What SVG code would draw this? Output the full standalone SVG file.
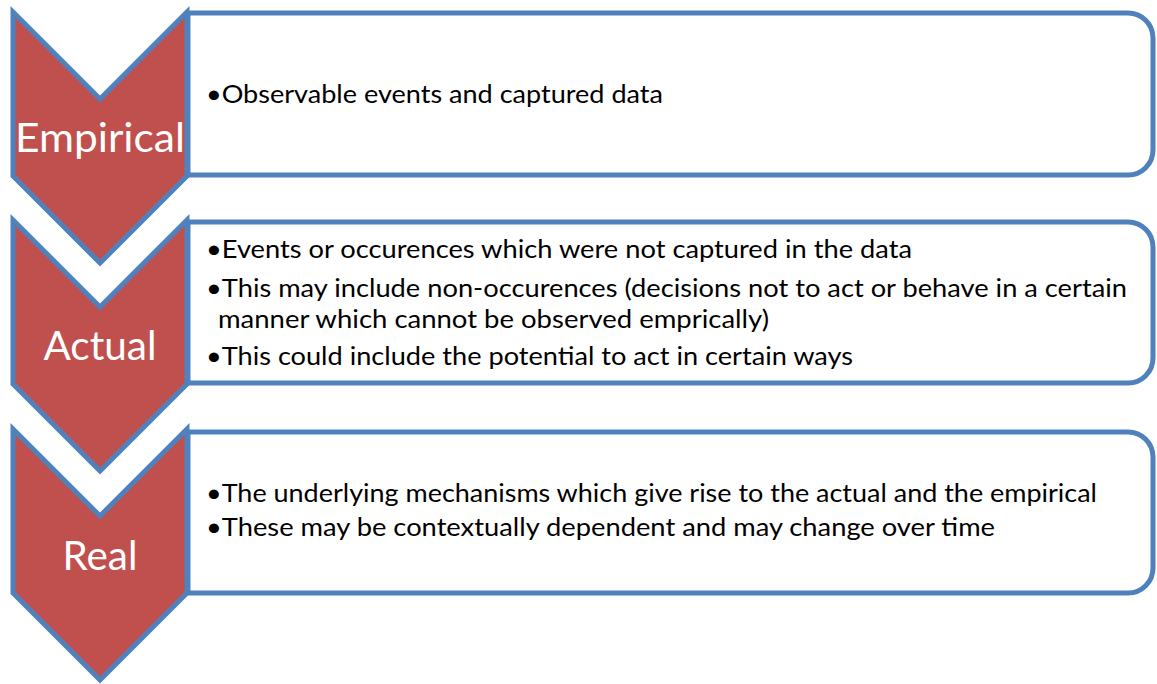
<svg xmlns="http://www.w3.org/2000/svg" width="1157" height="684" viewBox="0 0 1157 684">
<style>
.chev{fill:#C0504D;stroke:#4F81BD;stroke-width:5;stroke-linejoin:miter}
.box{fill:#FFFFFF;stroke:#4F81BD;stroke-width:5}
.lbl{font-family:Lato,"Open Sans",sans-serif;font-size:40px;fill:#FFFFFF;text-anchor:middle}
.txt{font-family:Lato,"Open Sans",sans-serif;font-size:25px;fill:#000000}
</style>
<rect width="1157" height="684" fill="#FFFFFF"/>
<g id="box1"><path class="box" d="M188,13 H1128 A25,25 0 0 1 1153,38 V150 A25,25 0 0 1 1128,175 H188 Z"/>
<text class="txt" x="206" y="103" textLength="457" lengthAdjust="spacingAndGlyphs">•Observable events and captured data</text></g>
<g id="box2"><path class="box" d="M188,222 H1128 A25,25 0 0 1 1153,247 V358 A25,25 0 0 1 1128,383 H188 Z"/>
<text class="txt" x="206" y="258" textLength="706" lengthAdjust="spacingAndGlyphs">•Events or occurences which were not captured in the data</text>
<text class="txt" x="206" y="297" textLength="921" lengthAdjust="spacingAndGlyphs">•This may include non-occurences (decisions not to act or behave in a certain</text>
<text class="txt" x="218" y="328" textLength="551" lengthAdjust="spacingAndGlyphs">manner which cannot be observed emprically)</text>
<text class="txt" x="206" y="365" textLength="647" lengthAdjust="spacingAndGlyphs">•This could include the potential to act in certain ways</text></g>
<g id="box3"><path class="box" d="M188,432 H1128 A25,25 0 0 1 1153,457 V568 A25,25 0 0 1 1128,593 H188 Z"/>
<text class="txt" x="206" y="502" textLength="891" lengthAdjust="spacingAndGlyphs">•The underlying mechanisms which give rise to the actual and the empirical</text>
<text class="txt" x="206" y="536" textLength="789" lengthAdjust="spacingAndGlyphs">•These may be contextually dependent and may change over time</text></g>
<g id="chevron1"><path class="chev" d="M13,12 L100,99 L187,12 V176 L100,263 L13,176 Z"/>
<text class="lbl" x="100" y="152" textLength="170" lengthAdjust="spacingAndGlyphs">Empirical</text></g>
<g id="chevron2"><path class="chev" d="M13,220 L100,307 L187,220 V384 L100,471 L13,384 Z"/>
<text class="lbl" x="100" y="360" textLength="113" lengthAdjust="spacingAndGlyphs">Actual</text></g>
<g id="chevron3"><path class="chev" d="M13,429 L100,516 L187,429 V593 L100,680 L13,593 Z"/>
<text class="lbl" x="100" y="570" textLength="75" lengthAdjust="spacingAndGlyphs">Real</text></g>
<g id="connectors"></g>
</svg>
